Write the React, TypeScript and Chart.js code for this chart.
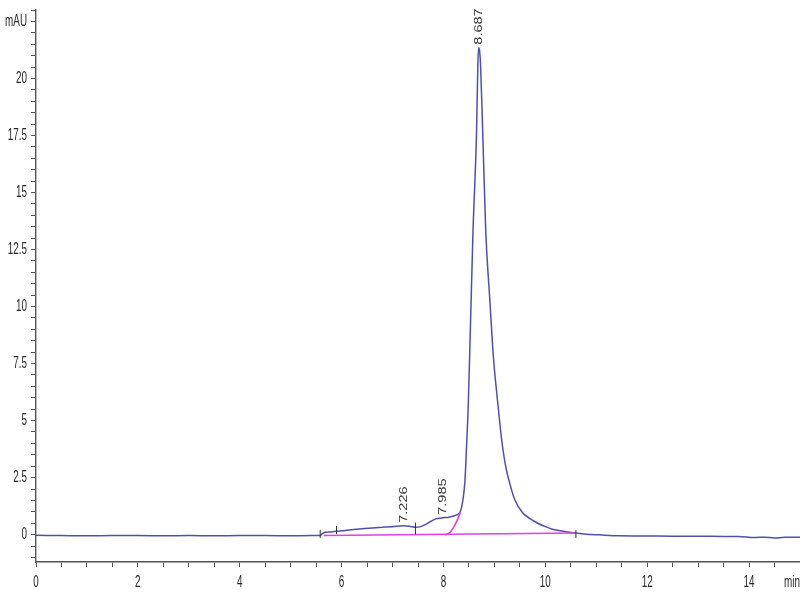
import React, { useEffect, useRef } from "react";
import { Chart, registerables } from "chart.js";

Chart.register(...registerables);

// Chromatogram signal (retention time in min, absorbance in mAU)
const timeMin = [
  0, 0.5, 1.0, 1.5, 2.0, 2.5, 3.0, 3.5, 4.0, 4.5, 5.0, 5.4, 5.58,
  5.62, 5.68, 5.8, 5.9, 6.0, 6.2, 6.4, 6.6, 6.8, 7.0, 7.226, 7.35, 7.45,
  7.55, 7.65, 7.75, 7.85, 7.985, 8.1, 8.2, 8.27, 8.33, 8.38, 8.42, 8.45,
  8.49, 8.53, 8.58, 8.65, 8.675, 8.69, 8.71, 8.73, 8.77, 8.83, 8.91, 8.98,
  9.06, 9.12, 9.17, 9.23, 9.3, 9.4, 9.55, 9.7, 9.85, 10.0, 10.14, 10.4,
  10.6, 10.8, 11.06, 11.45, 12.0, 12.5, 13.0, 13.5, 13.8, 14.1, 14.3, 14.5,
  14.7, 15.0,
];
const absorbance = [
  -0.03, -0.04, -0.05, -0.04, -0.04, -0.05, -0.04, -0.05, -0.04, -0.04, -0.05, -0.04, -0.04,
  0.04, 0.1, 0.12, 0.15, 0.17, 0.21, 0.26, 0.29, 0.32, 0.35, 0.39, 0.36, 0.32,
  0.35, 0.45, 0.58, 0.69, 0.74, 0.76, 0.82, 0.88, 1.0, 1.5, 2.3, 3.7,
  5.9, 9.2, 13.3, 17.7, 20.6, 21.35, 21.2, 20.5, 17.7, 13.3, 10.3, 7.8,
  5.9, 4.6, 3.7, 2.9, 2.26, 1.53, 0.97, 0.7, 0.5, 0.35, 0.24, 0.13,
  0.07, 0.02, -0.01, -0.05, -0.06, -0.07, -0.07, -0.08, -0.08, -0.13, -0.11, -0.15,
  -0.12, -0.12,
];

// Integration baseline (straight) and skim baseline under the main peak
const baselineTime = [5.65, 10.6];
const baselineValue = [-0.04, 0.07];
const skimTime = [8.03, 8.08, 8.13, 8.18, 8.23, 8.28, 8.33];
const skimValue = [-0.01, 0.03, 0.1, 0.25, 0.45, 0.68, 0.97];

// Peak start / end tick marks
const markTime = [5.58, 5.9, 7.45, 10.6];
const markValue = [0.03, 0.2, 0.27, 0.03];

// Peak retention-time labels
const peakTime = [7.226, 7.985, 8.687];
const peakValue = [0.39, 0.74, 21.35];
const peakLabels = ["7.226", "7.985", "8.687"];

// Axis tick labels
const xLabelValues = [0, 2, 4, 6, 8, 10, 12, 14];
const xUnitLabel = "min";
const yLabelValues = [0, 2.5, 5, 7.5, 10, 12.5, 15, 17.5, 20];
const yUnitLabel = "mAU";
const yUnitValue = 22.5;

// Axis ranges
const xMin = 0;
const xMax = 15;
const yMin = -1.2;
const yMax = 23;

const xy = (xs: number[], ys: number[]) => xs.map((x, i) => ({ x, y: ys[i] }));

export default function App() {
  const ref = useRef<HTMLCanvasElement>(null);

  useEffect(() => {
    const canvas = ref.current;
    if (!canvas) return;

    const textPlugin = {
      id: "chromText",
      afterDraw(chart: any) {
        const { ctx, scales, chartArea } = chart;
        const xs = scales.x;
        const ys = scales.y;
        const squeeze = 0.58;
        ctx.save();
        ctx.fillStyle = "#262626";
        ctx.font = '17px "Liberation Sans", Arial, sans-serif';

        // x-axis labels
        ctx.textBaseline = "alphabetic";
        const xBase = chartArea.bottom + 25;
        xLabelValues.forEach((v) => {
          const px = xs.getPixelForValue(v);
          ctx.save();
          ctx.translate(px, xBase);
          ctx.scale(squeeze, 1);
          ctx.textAlign = "center";
          ctx.fillText(String(v), 0, 0);
          ctx.restore();
        });
        ctx.save();
        ctx.translate(xs.getPixelForValue(xMax) - 16, xBase);
        ctx.scale(squeeze, 1);
        ctx.textAlign = "left";
        ctx.fillText(xUnitLabel, 0, 0);
        ctx.restore();

        // y-axis labels
        ctx.textBaseline = "middle";
        const yRight = chartArea.left - 9;
        const drawY = (v: number, s: string) => {
          const py = ys.getPixelForValue(v);
          ctx.save();
          ctx.translate(yRight, py);
          ctx.scale(squeeze, 1);
          ctx.textAlign = "right";
          ctx.fillText(s, 0, 0);
          ctx.restore();
        };
        yLabelValues.forEach((v) => drawY(v, String(v)));
        drawY(yUnitValue, yUnitLabel);

        // peak labels (rotated)
        ctx.fillStyle = "#3a3a3a";
        ctx.font = '14.5px "Liberation Sans", Arial, sans-serif';
        ctx.textAlign = "left";
        ctx.textBaseline = "middle";
        peakTime.forEach((t, i) => {
          const px = xs.getPixelForValue(t);
          const py = ys.getPixelForValue(peakValue[i]) - 3;
          ctx.save();
          ctx.translate(px, py);
          ctx.rotate(-Math.PI / 2);
          ctx.scale(1, 0.8);
          ctx.fillText(peakLabels[i], 0, 0);
          ctx.restore();
        });
        ctx.restore();
      },
    };

    const chart = new Chart(canvas, {
      type: "line",
      data: {
        datasets: [
          {
            data: xy(markTime, markValue),
            showLine: false,
            pointStyle: "line",
            rotation: 90,
            pointRadius: [4, 4, 6, 4],
            borderColor: "#333",
            borderWidth: 1,
          },
          {
            data: xy(baselineTime, baselineValue),
            borderColor: "#e040e0",
            borderWidth: 1.6,
            pointRadius: 0,
          },
          {
            data: xy(skimTime, skimValue),
            borderColor: "#e040e0",
            borderWidth: 1.6,
            pointRadius: 0,
            cubicInterpolationMode: "monotone",
          },
          {
            data: xy(timeMin, absorbance),
            borderColor: "#4f4fb0",
            borderWidth: 1.5,
            pointRadius: 0,
            cubicInterpolationMode: "monotone",
          },
        ],
      } as any,
      options: {
        animation: false,
        responsive: false,
        layout: { padding: { top: 10, left: 0, right: 0, bottom: 0 }, autoPadding: false } as any,
        plugins: { legend: { display: false }, tooltip: { enabled: false } },
        scales: {
          x: {
            type: "linear",
            min: xMin,
            max: xMax,
            afterFit: (s: any) => {
              s.height = 38;
              s.paddingLeft = 0;
              s.paddingRight = 0;
            },
            border: { display: true, color: "#555", width: 1.6 },
            grid: { drawOnChartArea: false, drawTicks: true, tickLength: 5, tickColor: "#555", tickWidth: 1 },
            ticks: { display: false, stepSize: 0.5, autoSkip: false, includeBounds: false },
          },
          y: {
            min: yMin,
            max: yMax,
            afterFit: (s: any) => {
              s.width = 36;
              s.paddingTop = 0;
              s.paddingBottom = 0;
            },
            border: { display: true, color: "#555", width: 1.4 },
            grid: { drawOnChartArea: false, drawTicks: true, tickLength: 5, tickColor: "#555", tickWidth: 1 },
            ticks: { display: false, stepSize: 0.5, autoSkip: false, includeBounds: false },
          },
        },
      } as any,
      plugins: [textPlugin],
    });

    return () => chart.destroy();
  }, []);

  return (
    <div style={{ position: "fixed", left: 0, top: 0, width: 800, height: 600, background: "#fff" }}>
      <canvas ref={ref} width={800} height={600} style={{ display: "block" }} />
    </div>
  );
}
